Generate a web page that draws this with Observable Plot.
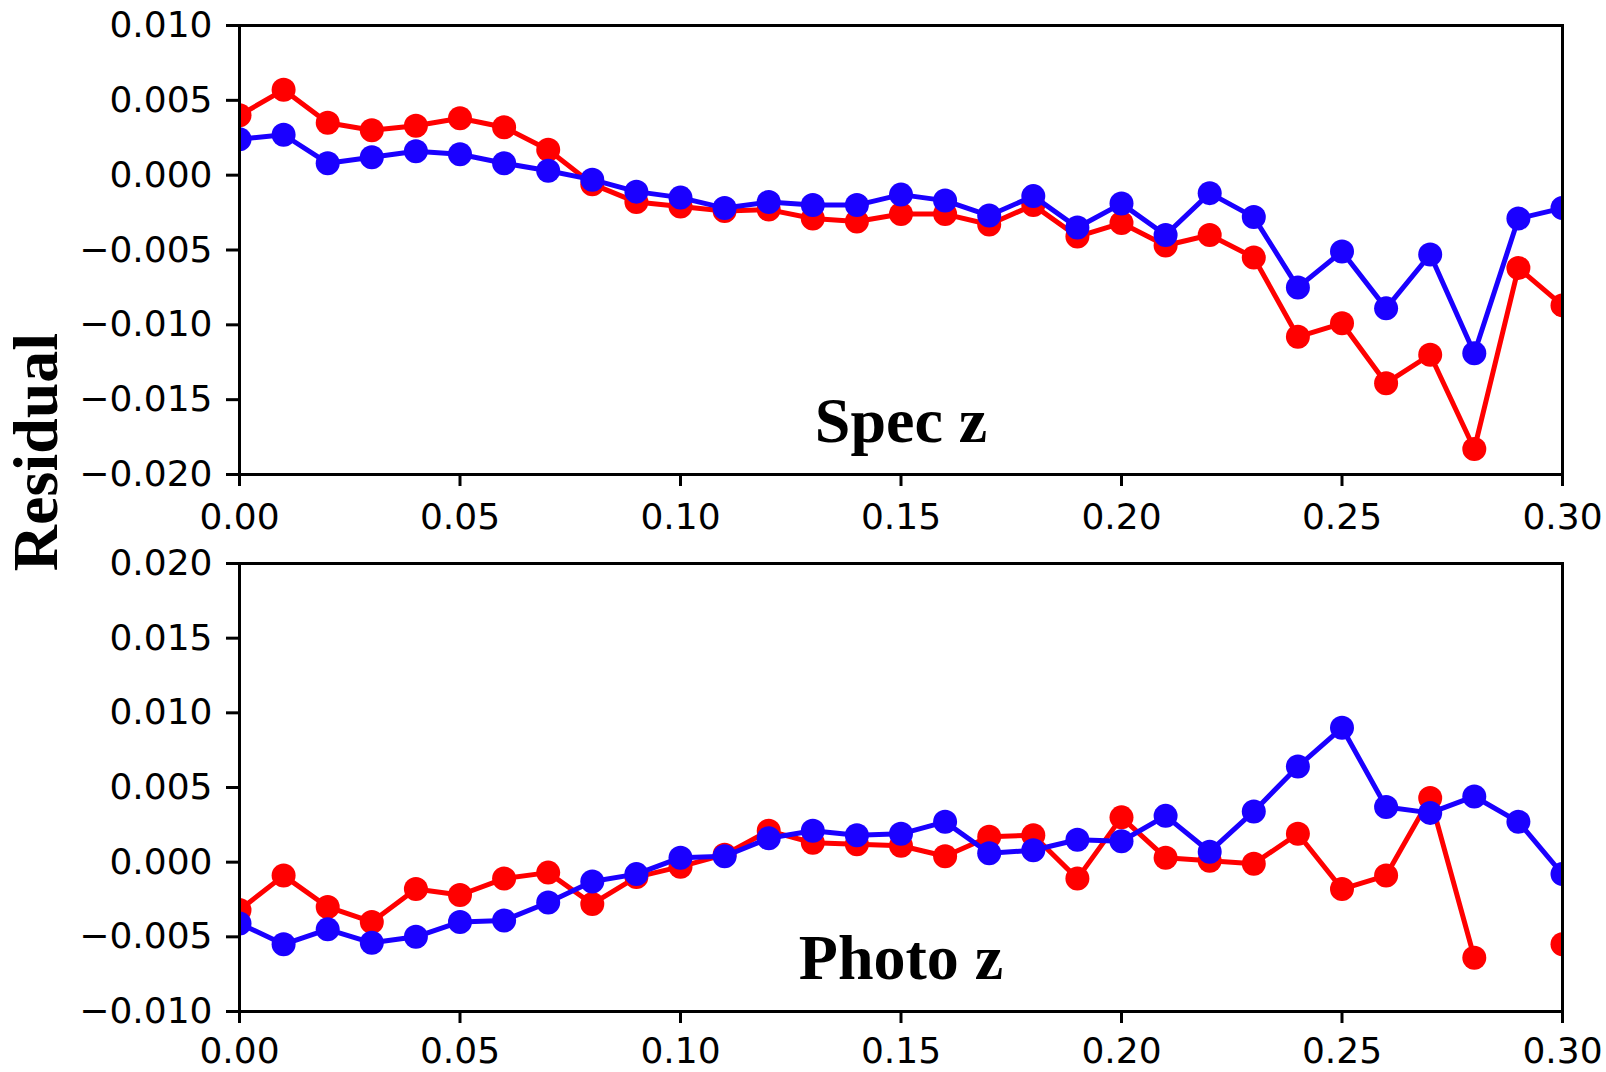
<!DOCTYPE html>
<html>
<head>
<meta charset="utf-8">
<script src="https://cdn.jsdelivr.net/npm/d3@7"></script>
<script src="https://cdn.jsdelivr.net/npm/@observablehq/plot@0.6"></script>
<style>
  html, body { margin: 0; padding: 0; background: #fff; }
  #wrap { position: relative; width: 1606px; height: 1072px; background: #fff; overflow: hidden; }
  #top, #bottom { position: absolute; left: 0; }
  #top { top: 0; }
  #bottom { top: 540px; }
  #ylabel {
    position: absolute; left: 36px; top: 452px;
    transform: translate(-50%, -50%) rotate(-90deg);
    font-family: "Liberation Serif", "Times New Roman", serif;
    font-weight: bold; font-size: 64px; line-height: 1; white-space: nowrap; color: #000;
  }
</style>
</head>
<body>
<div id="wrap">
  <div id="top"></div>
  <div id="bottom"></div>
  <div id="ylabel">Residual</div>
</div>
<script>
// ---- data ----
const z = [0.00, 0.01, 0.02, 0.03, 0.04, 0.05, 0.06, 0.07, 0.08, 0.09,
           0.10, 0.11, 0.12, 0.13, 0.14, 0.15, 0.16, 0.17, 0.18, 0.19,
           0.20, 0.21, 0.22, 0.23, 0.24, 0.25, 0.26, 0.27, 0.28, 0.29, 0.30];

const specRed = [0.0040, 0.0057, 0.0035, 0.0030, 0.0033, 0.0038, 0.0032, 0.0017, -0.0006, -0.0018,
                 -0.0021, -0.0024, -0.0023, -0.0029, -0.0031, -0.0026, -0.0026, -0.0033, -0.0020, -0.0041,
                 -0.0032, -0.0047, -0.0040, -0.0055, -0.0108, -0.0099, -0.0139, -0.0120, -0.0183, -0.0062, -0.0087];
const specBlue = [0.0024, 0.0027, 0.0008, 0.0012, 0.0016, 0.0014, 0.0008, 0.0003, -0.0003, -0.0011,
                  -0.0015, -0.0022, -0.0018, -0.0020, -0.0020, -0.0013, -0.0017, -0.0027, -0.0014, -0.0035,
                  -0.0019, -0.0040, -0.0012, -0.0028, -0.0075, -0.0051, -0.0089, -0.0053, -0.0119, -0.0029, -0.0022];

const photoRed = [-0.0032, -0.0009, -0.0030, -0.0040, -0.0018, -0.0022, -0.0011, -0.0007, -0.0028, -0.0010,
                  -0.0003, 0.0005, 0.0021, 0.0013, 0.0012, 0.0011, 0.0004, 0.0017, 0.0018, -0.0011,
                  0.0030, 0.0003, 0.0001, -0.0001, 0.0019, -0.0018, -0.0009, 0.0043, -0.0064, null, -0.0055];
const photoBlue = [-0.0041, -0.0055, -0.0045, -0.0054, -0.0050, -0.0040, -0.0039, -0.0027, -0.0013, -0.0008,
                   0.0003, 0.0004, 0.0016, 0.0021, 0.0018, 0.0019, 0.0027, 0.0006, 0.0008, 0.0015,
                   0.0014, 0.0031, 0.0007, 0.0034, 0.0064, 0.0090, 0.0037, 0.0033, 0.0044, 0.0027, -0.0008];

const xTicks = [0.00, 0.05, 0.10, 0.15, 0.20, 0.25, 0.30];
const yTicksTop = [-0.020, -0.015, -0.010, -0.005, 0.000, 0.005, 0.010];
const yTicksBottom = [-0.010, -0.005, 0.000, 0.005, 0.010, 0.015, 0.020];
const panelLabels = ["Spec z", "Photo z"];

const RED = "#ff0000";
const BLUE = "#1a00ff";

function rows(values) { return z.map((zz, i) => ({z: zz, v: values[i]})); }

function panel({red, blue, yDomain, yTicks, label, labelY, height, marginTop, marginBottom, xPad}) {
  const redRows = rows(red), blueRows = rows(blue);
  return Plot.plot({
    width: 1606, height,
    marginLeft: 239, marginRight: 44, marginTop, marginBottom,
    style: {fontFamily: "'DejaVu Sans', sans-serif", fontSize: "36px", background: "transparent", overflow: "visible", color: "#000"},
    x: {domain: [0, 0.3], label: null},
    y: {domain: yDomain, label: null},
    marks: [
      Plot.line(redRows, {x: "z", y: "v", stroke: RED, strokeWidth: 5, clip: true}),
      Plot.dot(redRows, {x: "z", y: "v", r: 12, fill: RED, stroke: "none", clip: true}),
      Plot.line(blueRows, {x: "z", y: "v", stroke: BLUE, strokeWidth: 5, clip: true}),
      Plot.dot(blueRows, {x: "z", y: "v", r: 12, fill: BLUE, stroke: "none", clip: true}),
      Plot.text([label], {x: () => 0.15, y: () => labelY, text: d => d, fontFamily: "'Liberation Serif', 'Times New Roman', serif", fontWeight: "bold", fontSize: 64, textAnchor: "middle", lineAnchor: "bottom", fill: "#000"}),
      Plot.frame({stroke: "#000", strokeWidth: 3}),
      Plot.axisX({ticks: xTicks, tickFormat: d3.format(".2f"), tickSize: 12, tickPadding: xPad, strokeWidth: 3, fontSize: 36, label: null}),
      Plot.axisY({ticks: yTicks, tickFormat: d3.format(".3f"), tickSize: 13, tickPadding: 14, strokeWidth: 3, fontSize: 36, label: null})
    ]
  });
}

document.getElementById("top").appendChild(panel({
  red: specRed, blue: specBlue, yDomain: [-0.02, 0.01], yTicks: yTicksTop,
  label: panelLabels[0], labelY: -0.0178, height: 540, marginTop: 25, marginBottom: 66, xPad: 17
}));
document.getElementById("bottom").appendChild(panel({
  red: photoRed, blue: photoBlue, yDomain: [-0.01, 0.02], yTicks: yTicksBottom,
  label: panelLabels[1], labelY: -0.0078, height: 532, marginTop: 23, marginBottom: 61, xPad: 14
}));
</script>
</body>
</html>
